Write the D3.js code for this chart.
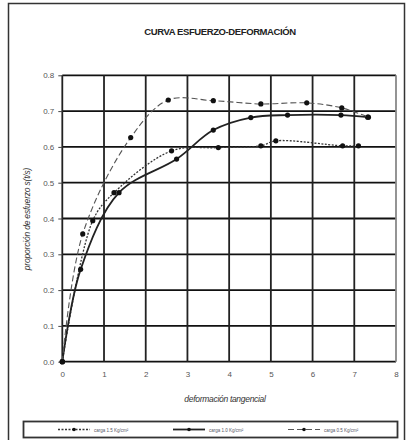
<!DOCTYPE html>
<html>
<head>
<meta charset="utf-8">
<script src="https://cdn.jsdelivr.net/npm/d3@7"></script>
<style>
  html, body { margin: 0; padding: 0; background: #fff; }
  svg { display: block; font-family: "Liberation Sans", Arial, sans-serif; }
</style>
</head>
<body>
<svg id="chart" width="409" height="440"></svg>
<script>
const title = "CURVA ESFUERZO-DEFORMACIÓN";
const xLabel = "deformación tangencial";
const yLabel = "proporción de esfuerzo s(t/s)";
const xTicks = [0, 1, 2, 3, 4, 5, 6, 7, 8];
const yTicks = [0.0, 0.1, 0.2, 0.3, 0.4, 0.5, 0.6, 0.7, 0.8];
const seriesNames = ["carga 1.5 Kg/cm²", "carga 1.0 Kg/cm²", "carga 0.5 Kg/cm²"];

// dotted series
const dottedX = [0, 0.73, 1.24, 2.62, 3.74, 4.76, 5.12, 6.72, 7.10];
const dottedY = [0, 0.394, 0.472, 0.589, 0.598, 0.603, 0.617, 0.603, 0.603];
// solid series
const solidX = [0, 0.44, 1.36, 2.74, 3.62, 4.52, 5.40, 6.68, 7.32];
const solidY = [0, 0.258, 0.472, 0.566, 0.647, 0.682, 0.689, 0.689, 0.683];
// dashed series
const dashedX = [0, 0.49, 1.64, 2.54, 3.62, 4.76, 5.86, 6.70, 7.34];
const dashedY = [0, 0.357, 0.626, 0.731, 0.729, 0.720, 0.723, 0.709, 0.683];

const svg = d3.select("#chart");

// outer frame
svg.append("rect").attr("x", 8.5).attr("y", 3.5).attr("width", 396).attr("height", 440)
  .attr("fill", "#fff").attr("stroke", "#333").attr("stroke-width", 1.5);

const x = d3.scaleLinear().domain([0, 8]).range([62.3, 396]);
const y = d3.scaleLinear().domain([0, 0.8]).range([361.7, 75.3]);

// title
svg.append("text").attr("x", 220).attr("y", 35).attr("text-anchor", "middle")
  .attr("font-size", 9.5).attr("font-weight", "bold").attr("fill", "#222")
  .attr("letter-spacing", -0.4).text(title);

// grid
const g = svg.append("g");
g.selectAll(".hg").data(yTicks).enter().append("line")
  .attr("x1", x(0)).attr("x2", x(8)).attr("y1", d => y(d)).attr("y2", d => y(d))
  .attr("stroke", "#111").attr("stroke-width", 1.8);
g.selectAll(".vg").data(xTicks).enter().append("line")
  .attr("y1", y(0)).attr("y2", y(0.8)).attr("x1", d => x(d)).attr("x2", d => x(d))
  .attr("stroke", (d, i) => i === 8 ? "#888" : "#222").attr("stroke-width", 1.8);

// axes
const xAxis = d3.axisBottom(x).tickValues(xTicks).tickFormat(d3.format("d")).tickSize(0).tickPadding(10);
const yAxis = d3.axisLeft(y).tickValues(yTicks).tickFormat(d3.format(".1f")).tickSize(4).tickPadding(4);
const gx = svg.append("g").attr("transform", `translate(0,${y(0)})`).call(xAxis);
const gy = svg.append("g").attr("transform", `translate(${x(0)},0)`).call(yAxis);
[gx, gy].forEach(a => {
  a.select(".domain").remove();
  a.selectAll("text").attr("font-size", 8).attr("fill", "#555")
    .attr("font-family", "'Liberation Sans Narrow', 'Liberation Sans', Arial, sans-serif");
  a.selectAll("line").attr("stroke", "#444");
});

// axis labels
svg.append("text").attr("x", 225).attr("y", 402).attr("text-anchor", "middle")
  .attr("font-size", 8.5).attr("font-style", "italic").attr("fill", "#333")
  .attr("letter-spacing", -0.3).text(xLabel);
svg.append("text").attr("transform", "translate(30,219) rotate(-90)").attr("text-anchor", "middle")
  .attr("font-size", 8.5).attr("font-style", "italic").attr("fill", "#333")
  .attr("letter-spacing", -0.2).text(yLabel);

// series
const series = [
  { name: seriesNames[0], xs: dottedX, ys: dottedY, dash: "2,1.5", width: 1.3, color: "#333" },
  { name: seriesNames[1], xs: solidX, ys: solidY, dash: null, width: 1.8, color: "#222" },
  { name: seriesNames[2], xs: dashedX, ys: dashedY, dash: "6,3", width: 1.1, color: "#555" }
];
const line = d3.line().x(d => x(d[0])).y(d => y(d[1])).curve(d3.curveCatmullRom.alpha(0.5));
series.forEach(s => {
  const pts = s.xs.map((v, i) => [v, s.ys[i]]);
  svg.append("path").datum(pts).attr("d", line).attr("fill", "none")
    .attr("stroke", s.color).attr("stroke-width", s.width)
    .attr("stroke-dasharray", s.dash);
  svg.append("g").selectAll("circle").data(pts).enter().append("circle")
    .attr("cx", d => x(d[0])).attr("cy", d => y(d[1])).attr("r", 2.6).attr("fill", "#111");
});

// legend
svg.append("rect").attr("x", 23.5).attr("y", 421.5).attr("width", 374).attr("height", 16)
  .attr("fill", "#fff").attr("stroke", "#333").attr("stroke-width", 1.8);
const legX = [58, 173, 288];
series.forEach((s, i) => {
  const lg = svg.append("g").attr("transform", `translate(${legX[i]},429.5)`);
  lg.append("line").attr("x1", 0).attr("x2", 32).attr("y1", 0).attr("y2", 0)
    .attr("stroke", s.color).attr("stroke-width", s.width).attr("stroke-dasharray", s.dash);
  lg.append("circle").attr("cx", 16).attr("cy", 0).attr("r", 1.8).attr("fill", "#111");
  lg.append("text").attr("x", 36).attr("y", 2).attr("font-size", 4.5).attr("fill", "#556")
    .text(s.name);
});
</script>
</body>
</html>
